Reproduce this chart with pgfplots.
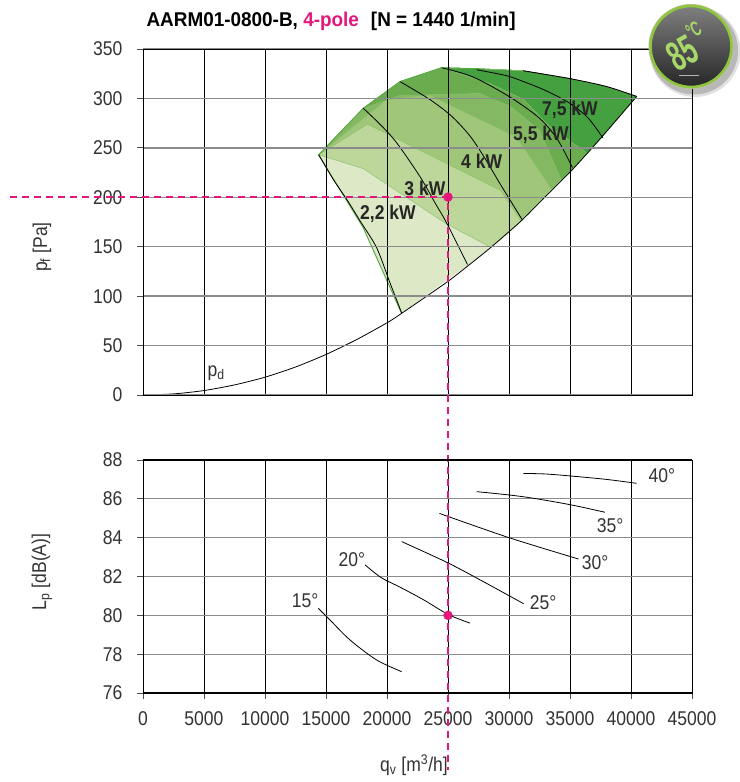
\documentclass[border=0pt]{standalone}
\usepackage{fontspec}
\setmainfont{Liberation Sans}[FakeStretch=0.88]
\newfontfamily\lblfont{Liberation Sans}[FakeStretch=0.88]
\newfontfamily\titlefont{Liberation Sans}[FakeStretch=0.95]
\newfontfamily\badgefont{Liberation Sans}[FakeStretch=0.6]
\usepackage{pgfplots}
\pgfplotsset{compat=1.18}
\definecolor{mypink}{HTML}{E2187D}
\definecolor{gA}{HTML}{DDE8C7}
\definecolor{gB}{HTML}{BDD79A}
\definecolor{gC}{HTML}{A0C67A}
\definecolor{gD}{HTML}{85B862}
\definecolor{gE}{HTML}{6BAC4F}
\definecolor{gF}{HTML}{45A03F}
\definecolor{gedge}{HTML}{5AAA45}
\definecolor{gline}{HTML}{8CC46F}
\definecolor{txt}{HTML}{333333}
\definecolor{badgeg}{HTML}{8DC63F}
\definecolor{badget}{HTML}{A8D86A}
\definecolor{beige}{HTML}{C9BC9E}
\newcommand{\bigfont}{\fontsize{20}{22}\selectfont}
\begin{document}
\begin{tikzpicture}
\pgfplotsset{
  base/.style={
    scale only axis, width=549bp,
    xmin=0, xmax=45000,
    xtick={0,5000,...,45000},
    scaled ticks=false,
    grid=major,
    major x grid style={black, line width=0.8bp},
    major y grid style={black!45, line width=1.3bp},
    axis line style={black, line width=0.9bp},
    tick align=outside,
    major tick length=6bp,
    tick style={black!70, line width=0.8bp},
    /pgf/number format/assume math mode=true,
    /pgf/number format/1000 sep={},
    tick label style={font=\bigfont, text=txt},
    yticklabel style={xshift=-11bp},
    xticklabel style={yshift=-9bp},
    clip=false,
  },
  band/.style={fill=#1, draw=gline, line width=0.5bp},
  kw/.style={black, line width=0.8bp, smooth, tension=0.5},
}
% ---------------- top axis: pressure ----------------
\begin{axis}[base, at={(143bp,-395bp)}, anchor=south west, height=346bp,
  ymin=0, ymax=350, ytick={0,50,...,350}, ytick pos=left,
  xticklabels={}, xtick style={draw=none}, axis on top]
% envelope (lightest band)
\addplot[band=gA, draw=none] coordinates {
 (14400,243) (18060,290) (21070,317) (24480,331) (27620,330) (31150,328) (35000,320) (38000,312) (40460,302)
 (37600,261) (35270,229) (32810,199) (30900,175) (28580,150) (26670,131.5) (24890,116) (21200,82.6)
 (18060,169)} --cycle;
% band 2
\addplot[band=gB] coordinates {
 (14400,243) (18060,229) (24890,173) (28500,149.5)
 (30900,175) (32810,199) (35270,229) (37600,261) (40460,302)
 (38000,312) (35000,320) (31150,328) (27620,330) (24480,331) (21070,317) (18060,290)} --cycle;
% band 3
\addplot[band=gC] coordinates {
 (14400,243) (18400,274) (24900,234) (29300,207) (31000,176)
 (32810,199) (35270,229) (37600,261) (40460,302)
 (38000,312) (35000,320) (31150,328) (27620,330) (24480,331) (21070,317) (18060,290)} --cycle;
% band 4
\addplot[band=gD] coordinates {
 (14400,243) (20000,299) (23500,303) (27900,277) (30600,261) (33500,208)
 (35270,229) (37600,261) (40460,302)
 (38000,312) (35000,320) (31150,328) (27620,330) (24480,331) (21070,317) (18060,290)} --cycle;
% band 5
\addplot[band=gE] coordinates {
 (18060,290) (21070,303) (27600,305) (30100,292) (32500,268) (34300,217)
 (35270,229) (37600,261) (40460,302)
 (38000,312) (35000,320) (31150,328) (27620,330) (24480,331) (21070,317)} --cycle;
% band 6 (darkest)
\addplot[band=gF] coordinates {
 (24480,331) (26000,325) (28440,315) (31170,299) (33300,272) (36400,244.5)
 (37600,261) (40460,302)
 (38000,312) (35000,320) (31150,328) (27620,330)} --cycle;
% envelope edges
\addplot[gedge, line width=1bp] coordinates {(14400,243) (18060,290) (21070,317) (24480,331) (27620,330)};
\addplot[gedge, line width=1bp] coordinates {(14400,243) (18060,169) (21200,82.6)};
\addplot[black, line width=0.9bp, smooth] coordinates {(31150,328) (35000,320) (38000,312) (40460,302)};
% dynamic pressure / lower edge
\addplot[black, line width=0.8bp, smooth, tension=0.4] coordinates {
 (0,0) (2500,1.1) (5000,4.5) (7500,10.2) (10000,18) (12500,28.3) (15000,41) (17500,56) (20000,73)
 (21200,82.6) (24890,114) (26670,131) (28580,150) (30900,175) (32810,198.5) (35270,229) (37600,261) (40460,302)};
% power curves
\addplot[kw] coordinates {(14400,243) (15600,218) (16800,196) (17800,176) (19150,149) (20200,115) (21200,83)};
\addplot[kw] coordinates {(18060,290) (19500,273) (20800,255) (22700,221) (24000,193) (24890,174) (26600,132)};
\addplot[kw] coordinates {(21070,317) (23500,299) (25300,282) (26800,262) (28000,240) (29300,213) (31100,177)};
\addplot[kw] coordinates {(24480,331) (27000,322) (30000,302) (32500,280) (34000,258) (35200,230)};
\addplot[kw] coordinates {(27350,329) (29800,323) (31200,317) (33000,308) (35000,295) (36500,280) (37700,260)};
\addplot[black, line width=1.2bp] coordinates {(41500,300) (45000,300)};
% labels
\node[font=\lblfont\bfseries\fontsize{20}{22}\selectfont, text=black!85] at (axis cs:35000,288.5) {7,5 kW};
\node[font=\lblfont\bfseries\fontsize{20}{22}\selectfont, text=black!85] at (axis cs:32620,263) {5,5 kW};
\node[font=\lblfont\bfseries\fontsize{20}{22}\selectfont, text=black!85] at (axis cs:27760,236) {4 kW};
\node[font=\lblfont\bfseries\fontsize{20}{22}\selectfont, text=black!85] at (axis cs:23110,209) {3 kW};
\node[font=\lblfont\bfseries\fontsize{20}{22}\selectfont, text=black!85] at (axis cs:20080,183) {2,2 kW};
\node[anchor=base west, font=\bigfont, text=txt] at (axis cs:5000,19) {p\textsubscript{d}};
\draw[line width=2.2bp] (rel axis cs:0,1) -- (rel axis cs:1,1);
\draw[line width=2.2bp] (rel axis cs:0,0) -- (rel axis cs:1,0);
\end{axis}
% ---------------- bottom axis: sound ----------------
\begin{axis}[base, at={(143bp,-693bp)}, anchor=south west, height=233bp,
  ymin=76, ymax=88, ytick={76,78,...,88}, ytick pos=left, xtick pos=bottom]
\addplot[black, line width=0.8bp, smooth] coordinates {(14370,80.36) (15330,79.76) (16970,78.73) (19150,77.70) (21200,77.10)};
\addplot[black, line width=0.8bp, smooth] coordinates {(18200,82.6) (19500,81.95) (21070,81.45) (23000,80.8) (25000,80.05) (26800,79.6)};
\addplot[black, line width=0.8bp, smooth] coordinates {(21200,83.8) (25000,82.7) (28000,81.7) (31200,80.6)};
\addplot[black, line width=0.8bp, smooth] coordinates {(24300,85.25) (30000,84.0) (35700,82.9)};
\addplot[black, line width=0.8bp, smooth] coordinates {(27350,86.37) (30000,86.2) (32000,86.03) (35000,85.7) (37870,85.31)};
\addplot[black, line width=0.8bp, smooth] coordinates {(31170,87.31) (33000,87.28) (35000,87.18) (38000,87.0) (40460,86.8)};
\node[font=\bigfont, text=txt] at (axis cs:13280,80.74) {15°};
\node[font=\bigfont, text=txt] at (axis cs:17130,82.85) {20°};
\node[font=\bigfont, text=txt] at (axis cs:32790,80.63) {25°};
\node[font=\bigfont, text=txt] at (axis cs:37050,82.69) {30°};
\node[font=\bigfont, text=txt] at (axis cs:38280,84.6) {35°};
\node[font=\bigfont, text=txt] at (axis cs:42540,87.18) {40°};
% operating point (pressure 200 Pa -> y=101.54 in these units)
\addplot[mypink, line width=2.2bp, dash pattern=on 7bp off 5bp] coordinates {(-10900,101.54) (25000,101.54) (25000,72.04)};
\addplot[mypink, only marks, mark=*, mark size=4.5bp] coordinates {(25000,101.54) (25000,80)};
\draw[line width=1.4bp] (rel axis cs:0,1) -- (rel axis cs:1,1);
\draw[line width=2.2bp] (rel axis cs:0,0) -- (rel axis cs:1,0);
\end{axis}
% ---------------- texts ----------------
\node[anchor=base west, font=\titlefont\bfseries\fontsize{20}{22}\selectfont] at (143bp,-26.5bp)
  {AARM01-0800-B, \textcolor{mypink}{4-pole}\hspace{0.6em}[N = 1440 1/min]};
\node[rotate=90, font=\bigfont, text=txt] at (42bp,-247bp) {p\textsubscript{f} [Pa]};
\node[rotate=90, font=\bigfont, text=txt] at (42bp,-572bp) {L\textsubscript{p} [dB(A)]};
\node[font=\bigfont, text=txt] at (414bp,-765bp) {q\textsubscript{v} [m\textsuperscript{3}/h]};
% ---------------- badge ----------------
\begin{scope}[shift={(691bp,-46.5bp)}]
  \fill[black, opacity=0.18] (3bp,-4bp) circle (44bp);
  \fill[black, opacity=0.12] (4bp,-5bp) circle (45.5bp);
  \fill[beige] (0,0) circle (42.5bp);
  \shade[top color=black!50, bottom color=black!85] (0,0) circle (40.5bp);
  \draw[badgeg, line width=2.6bp] (0,0) circle (40.5bp);
  \draw[white!70!black, line width=1.2bp] (-12bp,-29bp) -- (8bp,-29bp);
  \node[rotate=30, text=badget, font=\badgefont\bfseries\fontsize{42}{42}\selectfont, inner sep=0pt] at (-4bp,0bp) {85\raisebox{1.0ex}{\fontsize{21}{21}\selectfont °C}};
\end{scope}
\pgfresetboundingbox
\useasboundingbox (0,0) rectangle (740bp,-782bp);
\end{tikzpicture}
\end{document}
